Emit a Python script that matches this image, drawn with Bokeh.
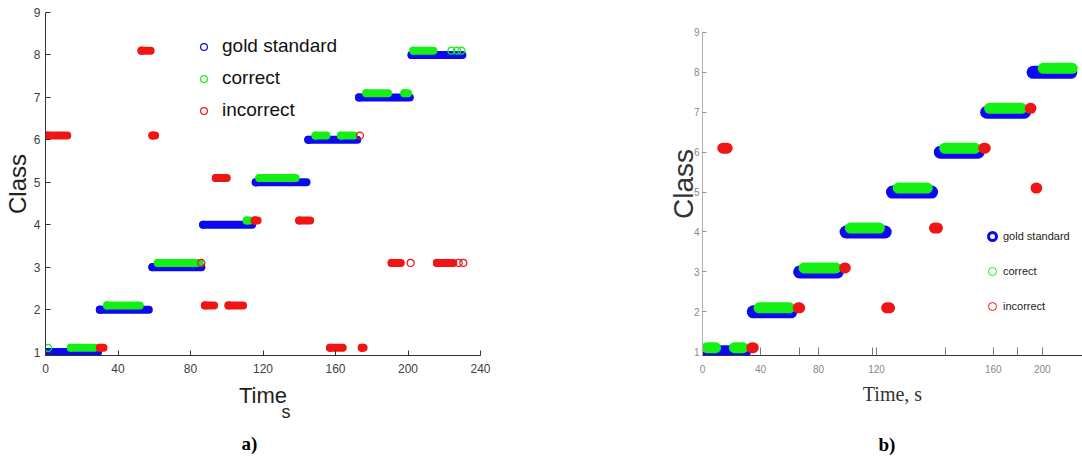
from bokeh.plotting import figure
from bokeh.models import FixedTicker, Legend, LegendItem, Range1d, Title
from bokeh.layouts import row
from bokeh.embed import file_html
from bokeh.resources import INLINE

# ---------------- Panel a data (time in s, class index) ----------------
a_xticks = [0, 40, 80, 120, 160, 200, 240]
a_yticks = [1, 2, 3, 4, 5, 6, 7, 8, 9]

a_gold_class = [1, 2, 3, 4, 5, 6, 7, 8]
a_gold_start = [1, 30, 59, 87, 116, 145, 173, 202]
a_gold_end = [29, 57, 86, 114, 144, 172, 201, 230]

a_corr_class = [1, 2, 3, 4, 5, 6, 6, 7, 7, 8]
a_corr_start = [14, 34, 62, 111, 118, 149, 163, 177, 198, 203]
a_corr_end = [27, 52, 85, 113, 138, 155, 170, 189, 200, 214]
a_corr_pt_class = [1, 8, 8, 8]
a_corr_pt_time = [1.5, 224, 227, 229.5]

a_inc_class = [1, 1, 1, 2, 2, 3, 3, 4, 4, 5, 6, 6, 8]
a_inc_start = [30, 157, 174.5, 88, 101, 191, 216, 115.5, 140, 94, 1, 59, 53]
a_inc_end = [32, 164, 175.5, 93, 109, 196, 225, 117, 146, 100, 12, 60.5, 58]
a_inc_pt_class = [3, 4, 6, 3, 3, 3]
a_inc_pt_time = [86, 115.5, 173.5, 201.5, 228, 230.5]

# ---------------- Panel b data ----------------
b_yticks = [1, 2, 3, 4, 5, 6, 7, 8, 9]
b_xtick_pos = [0, 40, 80, 120, 200.5, 234.3]
b_xtick_lbl = ["0", "40", "80", "120", "160", "200"]
b_xtick_minor = [67.1, 117.0, 167.6, 217.0]

b_gold_class = [1, 2, 3, 4, 5, 6, 7, 8]
b_gold_start = [3, 35, 67, 99, 131, 164, 196, 228]
b_gold_end = [29, 61, 93, 126, 158, 190, 222, 254]

b_corr_class = [1, 1, 2, 3, 4, 5, 6, 7, 8]
b_corr_start = [3, 22, 39, 70, 102, 135, 167, 198, 235]
b_corr_end = [9, 28, 60, 92, 122, 155, 188, 220, 255]

b_inc_class = [1, 2, 2, 3, 4, 5, 6, 6, 7]
b_inc_start = [34, 66, 127, 98, 160, 230, 14, 194, 226]
b_inc_end = [35, 67, 129, 98.5, 162, 230.5, 17, 195, 226.5]

series_names = ["gold standard", "correct", "incorrect"]

BLUE = "#0a0af0"
GREEN = "#14f014"
RED = "#f01414"
SANS = "Liberation Sans"
SERIF = "Liberation Serif"
OFF = 0.1  # vertical shift of predicted classes


def shift(vals):
    return [v + OFF for v in vals]


def make_fig(width, x_end, y_start, y_end, bl, br):
    p = figure(width=width, height=457, x_range=Range1d(0, x_end),
               y_range=Range1d(y_start, y_end), output_backend="svg",
               toolbar_location=None, tools="", title=None,
               min_border_left=bl, min_border_right=br,
               min_border_top=12, min_border_bottom=102)
    p.xgrid.visible = False
    p.ygrid.visible = False
    p.outline_line_color = None
    p.background_fill_color = "white"
    p.border_fill_color = "white"
    return p


def spacer(standoff):
    # blank band in the bottom panel (zero-width text), pushes the caption down
    return Title(text="\u200b", standoff=standoff, text_font_size="10px",
                 text_color="white")


# =========================== Panel a ===========================
pa = make_fig(548, 240, 0.92, 9, 44, 68)
pa.xaxis.ticker = FixedTicker(ticks=a_xticks)
pa.yaxis.ticker = FixedTicker(ticks=a_yticks)
for ax in (pa.xaxis[0], pa.yaxis[0]):
    ax.axis_line_color = "#333333"
    ax.major_tick_line_color = "#333333"
    ax.major_tick_in = 5
    ax.major_tick_out = 0
    ax.minor_tick_line_color = None
    ax.major_label_text_font = SANS
    ax.major_label_text_font_size = "12px"
    ax.major_label_text_color = "#404040"
    ax.axis_label_text_font = SANS
    ax.axis_label_text_font_style = "normal"
    ax.axis_label_text_color = "#222222"
pa.xaxis.major_label_standoff = 8
pa.yaxis.major_label_standoff = 5
pa.yaxis.axis_label = "Class"
pa.yaxis.axis_label_text_font_size = "24px"
pa.yaxis.axis_label_standoff = 0
pa.xaxis.axis_label = "Time"
pa.xaxis.axis_label_text_font_size = "22px"
pa.xaxis.axis_label_standoff = 7

lg_a_gold = pa.scatter(a_gold_start, a_gold_class, size=7, marker="circle",
                       fill_color=None, line_color=BLUE, line_width=1.2)
pa.segment(a_gold_start, a_gold_class, a_gold_end, a_gold_class,
           line_width=8, line_cap="round", line_color=BLUE)
lg_a_corr = pa.scatter(a_corr_start, shift(a_corr_class), size=7, marker="circle",
                       fill_color=None, line_color=GREEN, line_width=1.2)
pa.segment(a_corr_start, shift(a_corr_class), a_corr_end, shift(a_corr_class),
           line_width=8, line_cap="round", line_color=GREEN)
pa.scatter(a_corr_pt_time, shift(a_corr_pt_class), size=7, marker="circle",
           fill_color=None, line_color=GREEN, line_width=1.2)
lg_a_inc = pa.scatter(a_inc_start, shift(a_inc_class), size=7, marker="circle",
                      fill_color=None, line_color=RED, line_width=1.2)
pa.segment(a_inc_start, shift(a_inc_class), a_inc_end, shift(a_inc_class),
           line_width=8, line_cap="round", line_color=RED)
pa.scatter(a_inc_pt_time, shift(a_inc_pt_class), size=7, marker="circle",
           fill_color=None, line_color=RED, line_width=1.2)

leg_a = Legend(items=[LegendItem(label=series_names[0], renderers=[lg_a_gold]),
                      LegendItem(label=series_names[1], renderers=[lg_a_corr]),
                      LegendItem(label=series_names[2], renderers=[lg_a_inc])],
               location=(150, 234), padding=0, margin=0, spacing=10,
               glyph_width=17, glyph_height=17, label_standoff=10,
               label_text_font=SANS, label_text_font_size="19px",
               label_text_color="#111111", border_line_color=None,
               background_fill_alpha=0)
pa.add_layout(leg_a)

pa.add_layout(Title(text="s", align="left", offset=236, standoff=-22,
                    text_font=SANS, text_font_style="normal",
                    text_font_size="18px", text_color="#222222"), "below")
pa.add_layout(spacer(9), "below")
pa.add_layout(Title(text="a)", align="left", offset=196, standoff=-4,
                    text_font=SERIF, text_font_style="bold",
                    text_font_size="19px", text_color="#000000"), "below")

# =========================== Panel b ===========================
pb = make_fig(534, 262.07, 0.905, 9.5, 154, 0)
pb.xaxis.ticker = FixedTicker(ticks=b_xtick_pos, minor_ticks=b_xtick_minor)
pb.xaxis.major_label_overrides = dict(zip(b_xtick_pos, b_xtick_lbl))
pb.yaxis.ticker = FixedTicker(ticks=b_yticks)
xb = pb.xaxis[0]
xb.axis_line_color = "#333333"
xb.major_tick_line_color = "#777777"
xb.minor_tick_line_color = "#777777"
xb.major_tick_in = 8
xb.major_tick_out = 0
xb.minor_tick_in = 8
xb.minor_tick_out = 0
xb.major_label_standoff = 9
xb.axis_label = "Time, s"
xb.axis_label_text_font = SERIF
xb.axis_label_text_font_style = "normal"
xb.axis_label_text_font_size = "20px"
xb.axis_label_text_color = "#333333"
xb.axis_label_standoff = 7
yb = pb.yaxis[0]
yb.bounds = (0.905, 9)
yb.axis_line_color = "#b0b0b0"
yb.major_tick_line_color = "#909090"
yb.major_tick_in = 4
yb.major_tick_out = 0
yb.minor_tick_line_color = None
yb.major_label_standoff = 3
yb.axis_label = "Class"
yb.axis_label_text_font = SANS
yb.axis_label_text_font_style = "normal"
yb.axis_label_text_font_size = "28px"
yb.axis_label_text_color = "#333333"
yb.axis_label_standoff = -8
for ax in (xb, yb):
    ax.major_label_text_font = SANS
    ax.major_label_text_font_size = "10px"
    ax.major_label_text_color = "#888888"

lg_b_gold = pb.scatter(b_gold_start, b_gold_class, size=8, marker="circle",
                       fill_color=None, line_color=BLUE, line_width=3)
pb.segment(b_gold_start, b_gold_class, b_gold_end, b_gold_class,
           line_width=13, line_cap="round", line_color=BLUE)
lg_b_corr = pb.scatter(b_corr_start, shift(b_corr_class), size=8, marker="circle",
                       fill_color=None, line_color=GREEN, line_width=1)
pb.segment(b_corr_start, shift(b_corr_class), b_corr_end, shift(b_corr_class),
           line_width=11, line_cap="round", line_color=GREEN)
lg_b_inc = pb.scatter(b_inc_start, shift(b_inc_class), size=8, marker="circle",
                      fill_color=None, line_color=RED, line_width=1)
pb.segment(b_inc_start, shift(b_inc_class), b_inc_end, shift(b_inc_class),
           line_width=11, line_cap="round", line_color=RED)

leg_b = Legend(items=[LegendItem(label=series_names[0], renderers=[lg_b_gold]),
                      LegendItem(label=series_names[1], renderers=[lg_b_corr]),
                      LegendItem(label=series_names[2], renderers=[lg_b_inc])],
               location=(280, 39), padding=0, margin=0, spacing=15,
               glyph_width=20, glyph_height=20, label_standoff=1,
               label_text_font=SANS, label_text_font_size="11px",
               label_text_color="#222222", border_line_color=None,
               background_fill_alpha=0)
pb.add_layout(leg_b)

pb.add_layout(spacer(13), "below")
pb.add_layout(Title(text="b)", align="left", offset=176, standoff=-4,
                    text_font=SERIF, text_font_style="bold",
                    text_font_size="19px", text_color="#000000"), "below")

layout = row(pa, pb, spacing=0)
open("out.html", "w").write(file_html(layout, INLINE))
